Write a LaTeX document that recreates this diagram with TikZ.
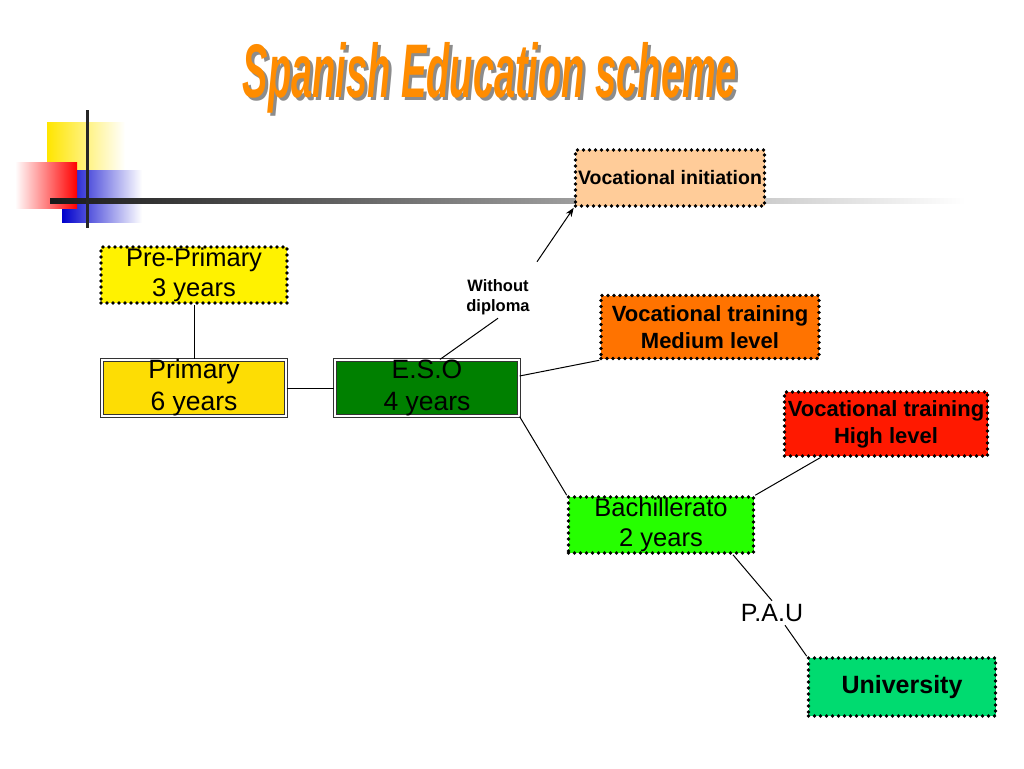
\documentclass[tikz,border=0pt]{standalone}
\usepackage{fontspec}
\setmainfont{Liberation Sans}
\usetikzlibrary{arrows.meta, positioning}

\tikzset{
  dotbox/.style = {draw = black, line width = 3.6pt, dash pattern = on 0pt off 6pt, line cap = round, minimum width = #1, minimum height = 56pt, inner sep = 0pt, align = center, font = \bfseries\fontsize{22}{27}\selectfont},
  dblbox/.style = {draw = black!80, line width = 1.2pt, double = white, double distance = 1.8pt, minimum width = 184pt, minimum height = 53pt, inner sep = 0pt, align = center, font = \fontsize{26.5}{32}\selectfont},
  link/.style = {draw = black, line width = 1pt}
}

\begin{document}
\begin{tikzpicture}[x=1pt, y=-1pt]
\useasboundingbox (0,0) rectangle (1024,768);
%%% DECORATION
\shade [left color = yellow!80!orange, right color = white] (47,122) rectangle (125,195);
\shade [left color = blue!80!black, right color = white] (62,170) rectangle (142,222);
\shade [left color = white, right color = red] (15,162) rectangle (77,208);
\shade [left color = black!90, right color = white] (50,198) rectangle (965,203);
\draw [line width = 3pt, black!85] (87,110) -- (87,228);
%%% TITLE
\node (shadow) at (493,81) [xscale = .5, text = black!45, font = \bfseries\itshape\fontsize{76}{76}\selectfont] {Spanish Education scheme};
\node (title) at (490,78) [xscale = .5, text = orange!90!yellow, font = \bfseries\itshape\fontsize{76}{76}\selectfont] {Spanish Education scheme};

%%% BOXES
\node (pre) at (194,275) [dotbox = 186pt, fill = yellow, font = \fontsize{25.5}{30}\selectfont] {Pre-Primary\\3 years};
\node (pri) at (194,388) [dblbox, fill = yellow!80!orange] {Primary\\6 years};
\node (eso) at (427,388) [dblbox, fill = green!50!black] {E.S.O\\4 years};
\node (ini) at (670,178) [dotbox = 189pt, fill = orange!40!white, font = \bfseries\fontsize{19.5}{22}\selectfont] {Vocational initiation};
\node (med) at (710,327) [dotbox = 218pt, minimum height = 63pt, fill = orange!90!red] {Vocational training\\Medium level};
\node (hig) at (886,424) [dotbox = 203pt, minimum height = 64pt, fill = red!80!orange] {Vocational training\\High level};
\node (bac) at (661,525) [dotbox = 185pt, fill = green!80!lime, font = \fontsize{25.5}{30}\selectfont] {Bachillerato\\2 years};
\node (uni) at (902,687) [dotbox = 187pt, minimum height = 58pt, fill = teal!40!green!70!cyan, font = \bfseries\fontsize{25}{28}\selectfont] {University};

\node (wd) at (498,297) [align = center, font = \bfseries\fontsize{16.5}{20}\selectfont] {Without\\diploma};
\node (pau) at (772,613) [font = \fontsize{25}{28}\selectfont] {P.A.U};

%%% CONNECTORS
\draw [link] (pre.south) -- (pri.north);
\draw [link] (pri.east) -- (eso.west);
\draw [link] ([xshift=13pt]eso.north) -- (wd.south);
\draw [link, -{Stealth[length=9pt]}] ([xshift=39pt, yshift=14pt]wd.north) -- (ini.south west);
\draw [link] ([yshift=12pt]eso.east) -- (med.south west);
\draw [link] (eso.south east) -- (bac.north west);
\draw [link] (bac.north east) -- ([xshift=-66pt]hig.south);
\draw [link] ([xshift=72pt]bac.south) -- (pau.north);
\draw [link] ([xshift=13pt]pau.south) -- (uni.north west);
\end{tikzpicture}
\end{document}
